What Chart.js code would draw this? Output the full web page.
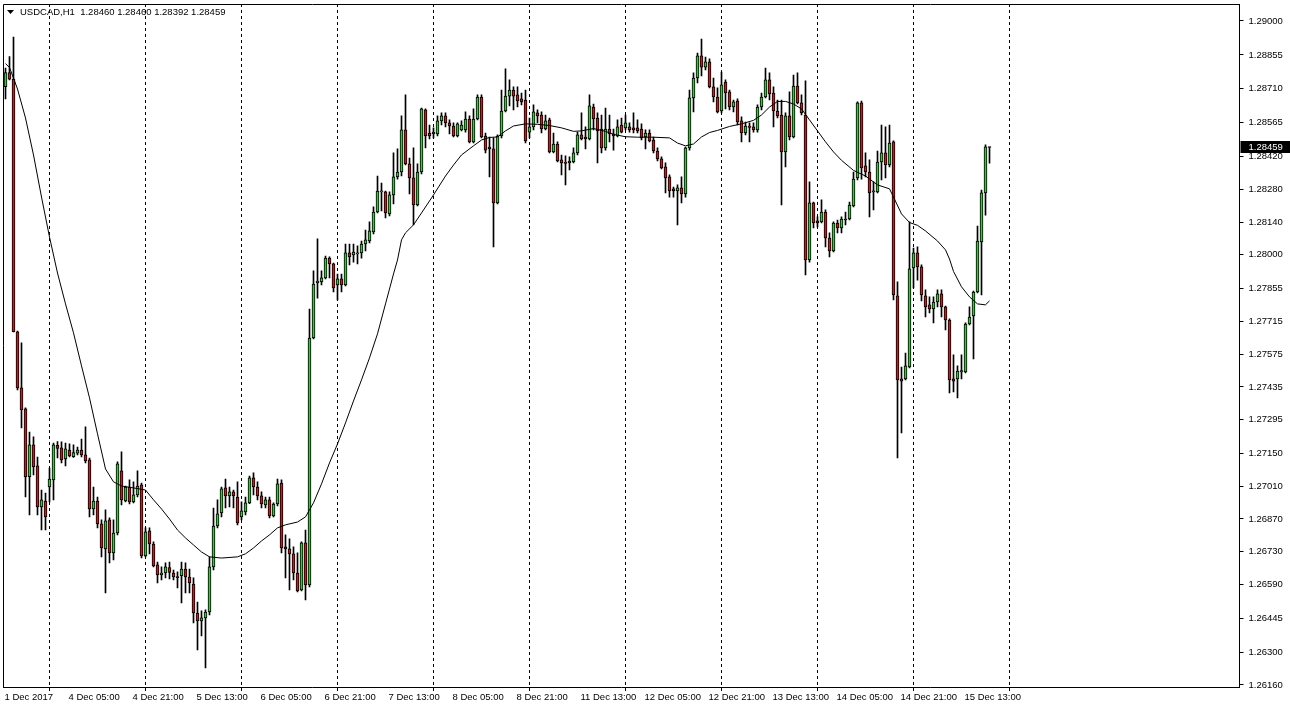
<!DOCTYPE html>
<html>
<head>
<meta charset="utf-8">
<script src="https://cdn.jsdelivr.net/npm/chart.js@4.4.0/dist/chart.umd.min.js"></script>
<style>
  html, body { margin: 0; padding: 0; background: #fff; }
  #wrap { width: 1290px; height: 710px; }
</style>
</head>
<body>
<div id="wrap"><canvas id="chart" width="1290" height="710"></canvas></div>
<script>
// USDCAD H1 bars (oldest first)
const opens = [
  1.28719,1.28779,1.28751,1.27671,1.27431,1.27341,1.27051,1.27187,1.27097,1.26922,
  1.26947,1.27007,1.27037,1.27185,1.27174,1.27127,1.27165,1.27137,1.27152,1.27165,
  1.27144,1.27123,1.26913,1.26947,1.26849,1.26742,1.26866,1.26725,1.26810,1.27076,
  1.26947,1.27007,1.26943,1.26973,1.27016,1.26712,1.26819,1.26763,1.26674,1.26631,
  1.26639,1.26662,1.26639,1.26623,1.26628,1.26656,1.26622,1.26592,1.26468,1.26434,
  1.26447,1.26472,1.26665,1.26840,1.26896,1.27003,1.26969,1.26986,1.26964,1.26879,
  1.26900,1.26939,1.27046,1.27007,1.26969,1.26930,1.26952,1.26883,1.26934,1.27024,
  1.26751,1.26742,1.26721,1.26639,1.26567,1.26768,1.26588,1.27644,1.27880,1.27884,
  1.27901,1.27986,1.27961,1.27871,1.27897,1.27871,1.28008,1.27999,1.28004,1.28008,
  1.28046,1.28059,1.28098,1.28183,1.28269,1.28269,1.28175,1.28256,1.28333,1.28354,
  1.28534,1.28389,1.28329,1.28213,1.28354,1.28620,1.28521,1.28517,1.28517,1.28573,
  1.28594,1.28564,1.28551,1.28508,1.28534,1.28534,1.28581,1.28483,1.28581,1.28675,
  1.28508,1.28461,1.28453,1.28222,1.28508,1.28615,1.28679,1.28705,1.28684,1.28667,
  1.28662,1.28525,1.28547,1.28607,1.28598,1.28538,1.28577,1.28440,1.28474,1.28406,
  1.28397,1.28393,1.28397,1.28436,1.28513,1.28504,1.28496,1.28632,1.28585,1.28538,
  1.28457,1.28538,1.28517,1.28508,1.28555,1.28543,1.28547,1.28543,1.28543,1.28538,
  1.28504,1.28521,1.28491,1.28444,1.28410,1.28376,1.28333,1.28282,1.28273,1.28286,
  1.28260,1.28457,1.28671,1.28756,1.28851,1.28803,1.28825,1.28718,1.28675,1.28615,
  1.28739,1.28697,1.28632,1.28658,1.28573,1.28521,1.28551,1.28547,1.28534,1.28632,
  1.28675,1.28748,1.28692,1.28615,1.28598,1.28440,1.28594,1.28504,1.28722,1.28650,
  1.28598,1.27978,1.28222,1.28145,1.28141,1.28183,1.28072,1.28017,1.28136,1.28115,
  1.28153,1.28153,1.28209,1.28329,1.28650,1.28380,1.28354,1.28273,1.28269,1.28397,
  1.28436,1.28384,1.28483,1.27824,1.27469,1.27469,1.27520,1.27944,1.28008,1.27948,
  1.27824,1.27786,1.27768,1.27798,1.27833,1.27777,1.27721,1.27469,1.27469,1.27499,
  1.27499,1.27704,1.27739,1.27841,1.28055,1.28265,1.28460
];
const highs = [
  1.28799,1.28848,1.28931,1.27674,1.27623,1.27345,1.27242,1.27221,1.27135,1.26994,
  1.26981,1.27088,1.27195,1.27201,1.27200,1.27195,1.27191,1.27187,1.27178,1.27212,
  1.27264,1.27131,1.27007,1.26964,1.26866,1.26909,1.26875,1.26866,1.27114,1.27157,
  1.27011,1.27037,1.27029,1.27076,1.27024,1.26832,1.26832,1.26772,1.26686,1.26665,
  1.26682,1.26686,1.26652,1.26644,1.26686,1.26682,1.26656,1.26618,1.26515,1.26477,
  1.26481,1.26708,1.26917,1.26952,1.27007,1.27041,1.27007,1.26994,1.27029,1.26943,
  1.26964,1.27054,1.27067,1.27029,1.26986,1.26964,1.26964,1.26939,1.27041,1.27037,
  1.26802,1.26785,1.26751,1.26725,1.26772,1.26823,1.27768,1.27931,1.28068,1.27931,
  1.27995,1.27991,1.27965,1.27918,1.27918,1.28046,1.28046,1.28046,1.28038,1.28059,
  1.28106,1.28141,1.28205,1.28337,1.28307,1.28273,1.28269,1.28436,1.28453,1.28594,
  1.28684,1.28414,1.28457,1.28389,1.28628,1.28624,1.28555,1.28543,1.28594,1.28607,
  1.28607,1.28577,1.28564,1.28564,1.28573,1.28611,1.28594,1.28624,1.28684,1.28684,
  1.28521,1.28504,1.28500,1.28513,1.28705,1.28795,1.28748,1.28718,1.28718,1.28692,
  1.28705,1.28585,1.28641,1.28620,1.28611,1.28598,1.28585,1.28521,1.28483,1.28427,
  1.28423,1.28419,1.28457,1.28525,1.28607,1.28547,1.28684,1.28645,1.28607,1.28598,
  1.28628,1.28598,1.28538,1.28577,1.28585,1.28598,1.28564,1.28607,1.28577,1.28560,
  1.28534,1.28534,1.28504,1.28457,1.28419,1.28393,1.28342,1.28290,1.28299,1.28333,
  1.28461,1.28705,1.28778,1.28863,1.28923,1.28846,1.28838,1.28756,1.28714,1.28782,
  1.28748,1.28705,1.28662,1.28667,1.28590,1.28568,1.28564,1.28564,1.28641,1.28692,
  1.28799,1.28778,1.28718,1.28662,1.28662,1.28607,1.28697,1.28769,1.28778,1.28684,
  1.28744,1.28312,1.28226,1.28162,1.28235,1.28192,1.28094,1.28141,1.28149,1.28162,
  1.28183,1.28226,1.28354,1.28654,1.28658,1.28436,1.28406,1.28312,1.28444,1.28555,
  1.28547,1.28555,1.28487,1.27884,1.27520,1.27580,1.28141,1.28029,1.28034,1.27957,
  1.27850,1.27820,1.27820,1.27850,1.27850,1.27781,1.27726,1.27572,1.27525,1.27572,
  1.27709,1.27777,1.27845,1.28123,1.28277,1.28470,1.28460
];
const lows = [
  1.28667,1.28748,1.27670,1.27422,1.27259,1.26964,1.26887,1.27058,1.26887,1.26823,
  1.26823,1.26943,1.26952,1.27131,1.27110,1.27097,1.27135,1.27133,1.27144,1.27135,
  1.27110,1.26879,1.26887,1.26832,1.26708,1.26554,1.26682,1.26695,1.26802,1.26930,
  1.26943,1.26934,1.26939,1.26964,1.26703,1.26708,1.26721,1.26665,1.26597,1.26609,
  1.26618,1.26614,1.26609,1.26575,1.26511,1.26554,1.26554,1.26425,1.26310,1.26370,
  1.26233,1.26460,1.26652,1.26832,1.26879,1.26917,1.26922,1.26917,1.26845,1.26866,
  1.26887,1.26935,1.26973,1.26952,1.26917,1.26917,1.26875,1.26879,1.26926,1.26725,
  1.26618,1.26567,1.26609,1.26558,1.26562,1.26524,1.26579,1.27640,1.27815,1.27871,
  1.27897,1.27901,1.27841,1.27807,1.27841,1.27867,1.27957,1.27969,1.27961,1.27986,
  1.28017,1.28051,1.28089,1.28179,1.28188,1.28158,1.28166,1.28218,1.28324,1.28337,
  1.28384,1.28260,1.28128,1.28209,1.28346,1.28457,1.28496,1.28500,1.28508,1.28555,
  1.28547,1.28517,1.28504,1.28504,1.28530,1.28525,1.28478,1.28478,1.28577,1.28500,
  1.28436,1.28333,1.28034,1.28218,1.28500,1.28611,1.28637,1.28620,1.28632,1.28641,
  1.28478,1.28500,1.28534,1.28564,1.28521,1.28534,1.28436,1.28436,1.28397,1.28342,
  1.28299,1.28363,1.28393,1.28427,1.28491,1.28453,1.28491,1.28534,1.28393,1.28436,
  1.28448,1.28483,1.28448,1.28504,1.28521,1.28534,1.28525,1.28521,1.28521,1.28491,
  1.28453,1.28483,1.28436,1.28401,1.28367,1.28265,1.28247,1.28247,1.28128,1.28222,
  1.28247,1.28448,1.28611,1.28735,1.28765,1.28791,1.28714,1.28654,1.28607,1.28607,
  1.28624,1.28620,1.28611,1.28555,1.28483,1.28513,1.28483,1.28525,1.28525,1.28620,
  1.28671,1.28662,1.28547,1.28585,1.28213,1.28376,1.28491,1.28500,1.28645,1.28598,
  1.27914,1.27969,1.28115,1.28119,1.28136,1.28034,1.27991,1.28012,1.28094,1.28094,
  1.28128,1.28149,1.28205,1.28320,1.28324,1.28333,1.28162,1.28192,1.28265,1.28320,
  1.28329,1.28376,1.27807,1.27131,1.27238,1.27465,1.27516,1.27858,1.27892,1.27803,
  1.27734,1.27751,1.27709,1.27777,1.27734,1.27679,1.27409,1.27413,1.27388,1.27469,
  1.27495,1.27700,1.27555,1.27837,1.27828,1.28170,1.28392
];
const closes = [
  1.28779,1.28751,1.27671,1.27431,1.27336,1.27050,1.27187,1.27093,1.26922,1.26952,
  1.26879,1.27041,1.27187,1.27172,1.27123,1.27170,1.27140,1.27154,1.27165,1.27144,
  1.27118,1.26913,1.26947,1.26849,1.26746,1.26862,1.26725,1.26810,1.27106,1.26952,
  1.27007,1.26943,1.26973,1.27011,1.26712,1.26815,1.26763,1.26669,1.26631,1.26639,
  1.26665,1.26641,1.26622,1.26619,1.26656,1.26622,1.26597,1.26468,1.26434,1.26447,
  1.26472,1.26665,1.26840,1.26892,1.26999,1.26969,1.26986,1.26969,1.26853,1.26905,
  1.26939,1.27046,1.27007,1.26969,1.26934,1.26952,1.26883,1.26934,1.27020,1.26746,
  1.26742,1.26721,1.26639,1.26562,1.26768,1.26588,1.27644,1.27875,1.27888,1.27901,
  1.27986,1.27961,1.27858,1.27897,1.27871,1.28008,1.27991,1.28012,1.28008,1.28046,
  1.28064,1.28102,1.28183,1.28273,1.28273,1.28179,1.28256,1.28333,1.28354,1.28534,
  1.28389,1.28329,1.28213,1.28354,1.28624,1.28508,1.28508,1.28525,1.28573,1.28594,
  1.28564,1.28551,1.28508,1.28560,1.28555,1.28581,1.28483,1.28581,1.28675,1.28504,
  1.28448,1.28453,1.28222,1.28508,1.28615,1.28679,1.28705,1.28679,1.28658,1.28654,
  1.28487,1.28547,1.28611,1.28594,1.28538,1.28573,1.28440,1.28474,1.28401,1.28393,
  1.28391,1.28401,1.28436,1.28513,1.28496,1.28496,1.28637,1.28581,1.28530,1.28457,
  1.28538,1.28517,1.28508,1.28547,1.28525,1.28564,1.28534,1.28534,1.28530,1.28500,
  1.28521,1.28487,1.28444,1.28410,1.28372,1.28329,1.28273,1.28273,1.28286,1.28260,
  1.28457,1.28671,1.28756,1.28851,1.28803,1.28825,1.28718,1.28675,1.28611,1.28727,
  1.28692,1.28632,1.28654,1.28568,1.28521,1.28551,1.28545,1.28534,1.28632,1.28675,
  1.28748,1.28688,1.28615,1.28594,1.28440,1.28594,1.28504,1.28722,1.28650,1.28607,
  1.27978,1.28222,1.28136,1.28136,1.28183,1.28072,1.28017,1.28136,1.28115,1.28153,
  1.28149,1.28213,1.28324,1.28650,1.28372,1.28354,1.28265,1.28269,1.28397,1.28436,
  1.28384,1.28478,1.27828,1.27465,1.27460,1.27525,1.27940,1.28008,1.27948,1.27828,
  1.27777,1.27768,1.27798,1.27833,1.27777,1.27721,1.27465,1.27460,1.27503,1.27505,
  1.27704,1.27734,1.27841,1.28059,1.28265,1.28462,1.28459
];

// moving average line, read at these bar numbers
const maBars = [0,1,2,3,5,7,9,11,13,15,17,19,21,23,25,27,29,32,35,37,
  39,41,43,45,47,49,51,54,58,60,62,64,66,68,70,73,75,76,77,79,
  81,83,85,87,89,91,93,95,97,98,99,100,102,104,107,110,112,114,117,119,
  121,123,125,127,130,133,136,139,142,144,147,150,152,155,158,162,166,168,170,172,
  174,176,178,181,184,187,189,191,193,195,197,199,201,203,205,207,209,212,215,218,
  221,222,224,226,228,230,233,235,236,237,239,241,243,245,246];
const maValues = [1.28818,1.28801,1.28756,1.28709,1.28585,1.28427,1.28247,1.28076,1.27922,1.27790,
  1.27666,1.27525,1.27388,1.27234,1.27084,1.27029,1.27011,1.27003,1.26994,1.26952,
  1.26913,1.26870,1.26823,1.26789,1.26759,1.26729,1.26708,1.26703,1.26708,1.26721,
  1.26746,1.26776,1.26802,1.26832,1.26845,1.26857,1.26879,1.26909,1.26939,1.27020,
  1.27110,1.27191,1.27281,1.27375,1.27465,1.27559,1.27662,1.27790,1.27918,1.27978,
  1.28064,1.28094,1.28128,1.28179,1.28256,1.28337,1.28384,1.28427,1.28466,1.28491,
  1.28502,1.28504,1.28530,1.28551,1.28560,1.28558,1.28553,1.28543,1.28528,1.28530,
  1.28540,1.28528,1.28515,1.28505,1.28503,1.28503,1.28500,1.28478,1.28466,1.28474,
  1.28504,1.28523,1.28532,1.28549,1.28560,1.28575,1.28598,1.28632,1.28656,1.28656,
  1.28645,1.28624,1.28577,1.28530,1.28483,1.28440,1.28404,1.28361,1.28337,1.28299,
  1.28282,1.28247,1.28175,1.28138,1.28126,1.28102,1.28059,1.28021,1.27982,1.27929,
  1.27863,1.27820,1.27790,1.27786,1.27803];

// time labels, one every 16 bars starting at bar 0
const timeLabels = ["1 Dec 2017","4 Dec 05:00","4 Dec 21:00","5 Dec 13:00","6 Dec 05:00",
  "6 Dec 21:00","7 Dec 13:00","8 Dec 05:00","8 Dec 21:00","11 Dec 13:00","12 Dec 05:00",
  "12 Dec 21:00","13 Dec 13:00","14 Dec 05:00","14 Dec 21:00","15 Dec 13:00"];
const priceTicks = [1.29000,1.28855,1.28710,1.28565,1.28420,1.28280,1.28140,1.28000,1.27855,
  1.27715,1.27575,1.27435,1.27295,1.27150,1.27010,1.26870,1.26730,1.26590,1.26445,1.26300,1.26160];

const SLOTS = 309;
const slotLabels = Array.from({length: SLOTS}, (_, i) => String(i));
const isSep = i => i >= 11 && i <= 251 && (i - 11) % 24 === 0;
const font = { family: "Liberation Sans", size: 9.5 };

const maData = new Array(SLOTS).fill(null);
maBars.forEach((b, k) => { maData[b] = maValues[k]; });

const frame = {
  id: "frame",
  beforeDraw(chart) {
    const c = chart.ctx;
    c.save();
    c.fillStyle = "#fff";
    c.fillRect(0, 0, chart.width, chart.height);
    c.restore();
  },
  afterDraw(chart) {
    const c = chart.ctx, a = chart.chartArea;
    c.save();
    c.strokeStyle = "#000";
    c.lineWidth = 1;
    c.beginPath();
    c.moveTo(a.left, a.bottom); c.lineTo(a.left, a.top + 0.5); c.lineTo(a.right, a.top + 0.5);
    c.stroke();
    // title
    const last = opens.length - 1;
    c.fillStyle = "#000";
    c.beginPath(); c.moveTo(7, 10); c.lineTo(14, 10); c.lineTo(10.5, 14); c.closePath(); c.fill();
    c.font = "9.5px 'Liberation Sans'";
    c.textBaseline = "middle";
    c.fillText("USDCAD,H1  " + [opens[last], highs[last], lows[last], closes[last]].map(v => v.toFixed(5)).join(" "), 20, 12.5);
    // last price marker
    const y = chart.scales.y.getPixelForValue(closes[last]);
    c.fillRect(a.right + 1, Math.round(y) - 6, 50, 12);
    c.fillStyle = "#fff";
    c.fillText(closes[last].toFixed(5), a.right + 9, Math.round(y));
    c.restore();
  }
};

new Chart(document.getElementById("chart"), {
  type: "bar",
  data: {
    labels: slotLabels,
    datasets: [
      {
        label: "wick",
        data: lows.map((l, i) => [l, highs[i]]),
        backgroundColor: "#000",
        barThickness: 1,
        grouped: false,
        order: 3
      },
      {
        label: "body",
        data: opens.map((o, i) => [o, closes[i]]),
        backgroundColor: ctx => closes[ctx.dataIndex] >= opens[ctx.dataIndex] ? "#32cd32" : "#d01a1a",
        borderColor: "#000",
        borderWidth: 1,
        borderSkipped: false,
        barThickness: 3,
        minBarLength: 1,
        grouped: false,
        order: 2
      },
      {
        type: "line",
        label: "MA",
        data: maData,
        spanGaps: true,
        borderColor: "#000",
        borderWidth: 1,
        pointRadius: 0,
        tension: 0,
        order: 1
      }
    ]
  },
  options: {
    responsive: false,
    animation: false,
    devicePixelRatio: 1,
    layout: { padding: { left: 3.5, top: 4, right: 0, bottom: 0 } },
    plugins: { legend: { display: false }, tooltip: { enabled: false } },
    scales: {
      x: {
        type: "category",
        offset: true,
        grid: {
          offset: false,
          color: ctx => isSep(ctx.index) ? "#000" : "rgba(0,0,0,0)",
          tickColor: ctx => isSep(ctx.index) ? "#000" : "rgba(0,0,0,0)",
          tickLength: 4,
          lineWidth: 1
        },
        border: { display: true, color: "#000", dash: [3, 3] },
        ticks: {
          autoSkip: false,
          maxRotation: 0,
          minRotation: 0,
          align: "start",
          labelOffset: -1,
          padding: 1,
          color: "#000",
          font: font,
          callback: (v, i) => (i % 16 === 0 && timeLabels[i / 16]) ? timeLabels[i / 16] : ""
        },
        afterFit: s => { s.height = 23; s.paddingLeft = 0; s.paddingRight = 0; }
      },
      y: {
        type: "linear",
        position: "right",
        min: 1.261514,
        max: 1.290727,
        afterBuildTicks: s => { s.ticks = priceTicks.map(v => ({ value: v })); },
        grid: { drawOnChartArea: false, tickLength: 4, tickColor: "#000" },
        border: { display: true, color: "#000" },
        ticks: { color: "#000", font: font, padding: 5, callback: v => Number(v).toFixed(5) },
        afterFit: s => { s.width = 50.5; s.paddingTop = 0; s.paddingBottom = 0; }
      }
    }
  },
  plugins: [frame]
});
</script>
</body>
</html>
